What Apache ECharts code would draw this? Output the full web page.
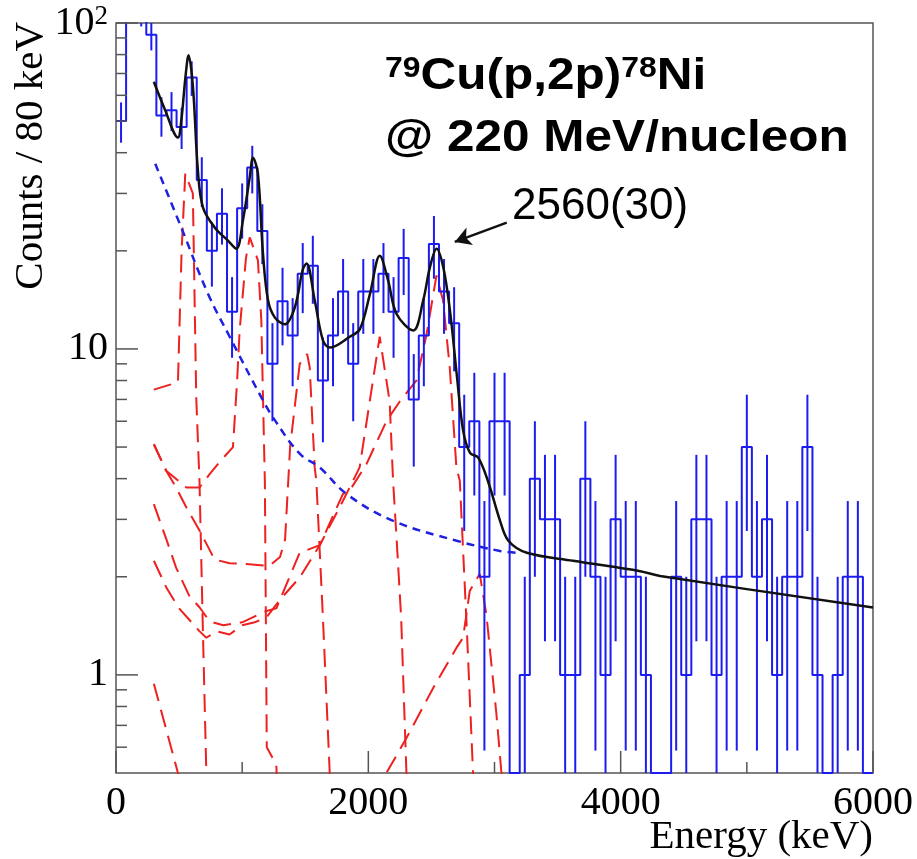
<!DOCTYPE html>
<html>
<head>
<meta charset="utf-8">
<script src="https://cdn.jsdelivr.net/npm/echarts@6/dist/echarts.min.js"></script>
<style>
  html, body { margin: 0; padding: 0; background: #ffffff; }
  #chart { width: 917px; height: 859px; }
</style>
</head>
<body>
<div id="chart"></div>
<script>
// Gamma-ray spectrum, 80 keV bins from 0 to 6000 keV
const binWidth = 80;
const counts = [
  50, 115, 108, 92, 52, 54, 48, 68, 33, 20,
  26, 13, 27, 36, 23, 9, 14, 11, 17, 18,
  8, 11, 15, 9, 15, 15, 17, 13, 19, 7,
  11, 21, 15, 12, 5, 6, 2, 6, 6, 0,
  1, 4, 3, 3, 1, 1, 4, 2, 1, 3,
  2, 2, 1, 0, 0, 2, 1, 3, 3, 1,
  2, 2, 5, 2, 3, 1, 2, 2, 5, 1,
  0, 1, 2, 2, 0
];

// Axis ranges and tick marks
const xRange = [0, 6000];
const yRange = [0.5, 100];
const xMajorTicks = [0, 2000, 4000, 6000];
const xMinorTicks = [1000, 3000, 5000];
const yMajorTicks = [1, 10, 100];
const yMinorTicks = [0.6, 0.7, 0.8, 0.9, 2, 3, 4, 5, 6, 7, 8, 9, 20, 30, 40, 50, 60, 70, 80, 90];

// Total fit [keV, counts]
const fitTotal = [
  [300, 66], [385, 54.6], [491, 44.5], [517, 50], [550, 68], [575, 79.6], [610, 63.6],
  [649, 35.3], [689, 27.2], [782, 23.6], [887, 21.5], [954, 20.3], [1006, 24.8],
  [1060, 33.6], [1086, 38.6], [1125, 34.5], [1165, 19.6], [1205, 14.1], [1258, 12.5],
  [1337, 11.9], [1417, 13.4], [1480, 17.5], [1510, 18.3], [1575, 14.1], [1641, 10.6],
  [1694, 10.1], [1853, 10.9], [1933, 11.5], [2012, 14.7], [2091, 19.3], [2157, 16.2],
  [2224, 12.8], [2356, 11.4], [2435, 14.1], [2488, 17.8], [2541, 20.3], [2594, 17.8],
  [2647, 13.1], [2700, 8.4], [2752, 5.6], [2806, 4.8], [2871, 4.64], [2951, 3.9],
  [3044, 2.97], [3110, 2.58], [3256, 2.37], [3623, 2.24], [4155, 2.08], [4313, 2.01],
  [6000, 1.61]
];

// Smooth background [keV, counts]
const background = [
  [311, 37], [517, 23.6], [728, 14.8], [901, 10.9], [1152, 7.1], [1244, 6.17],
  [1456, 4.77], [1615, 4.33], [1827, 3.59], [2197, 2.97], [2700, 2.58], [3044, 2.4],
  [3176, 2.37]
];

// Simulated response functions of the individual transitions [keV, counts]
const resp575 = [
  [300, 7.5], [491, 7.9], [520, 20], [549, 34.5], [609, 30], [622, 15], [636, 7.1],
  [662, 3.9], [690, 1.3], [716, 0.5], [730, 0.3]
];
const resp1086 = [
  [300, 5.1], [398, 4.23], [557, 3.76], [663, 3.76], [742, 4.13], [821, 4.5], [927, 5.0],
  [960, 8], [980, 11.4], [1030, 19], [1060, 22], [1125, 18.7], [1152, 12.2], [1165, 7.1],
  [1180, 3.9], [1195, 0.6], [1271, 0.53], [1290, 0.3]
];
const resp1510 = [
  [300, 5.1], [398, 4.23], [476, 3.76], [560, 3.25], [663, 2.77], [781, 2.26], [900, 2.2],
  [1031, 2.19], [1216, 2.16], [1300, 2.3], [1340, 2.6], [1380, 5], [1456, 9], [1515, 9.65],
  [1535, 8.8], [1575, 4.33], [1588, 3.94], [1640, 1.5], [1694, 0.5], [1710, 0.3]
];
const resp2090 = [
  [300, 2.24], [400, 1.85], [500, 1.6], [663, 1.36], [716, 1.3], [800, 1.36], [900, 1.33],
  [1000, 1.42], [1100, 1.45], [1192, 1.5], [1300, 1.7], [1456, 1.99], [1615, 2.5],
  [1799, 3.42], [1931, 4.33], [2011, 6.9], [2090, 10.9], [2169, 6.9], [2196, 3.94],
  [2222, 2.7], [2260, 1.5], [2302, 0.5], [2320, 0.3]
];
const resp2560 = [
  [300, 3.34], [400, 2.6], [477, 2.13], [580, 1.75], [663, 1.61], [742, 1.46], [850, 1.42],
  [1000, 1.45], [1192, 1.57], [1271, 1.6], [1456, 2.37], [1615, 2.5], [1799, 3.59],
  [1851, 3.67], [1985, 4.43], [2143, 6], [2249, 6.9], [2381, 8], [2460, 11], [2540, 16.8],
  [2592, 14.1], [2645, 8.8], [2698, 4.33], [2725, 3.94], [2780, 1.4], [2830, 0.5], [2850, 0.3]
];
const resp2880 = [
  [300, 0.94], [491, 0.5], [520, 0.45], [2100, 0.45], [2143, 0.5], [2302, 0.64],
  [2513, 0.91], [2698, 1.21], [2751, 1.3], [2804, 1.81], [2883, 2.04], [2936, 1.53],
  [3015, 0.76], [3055, 0.5], [3080, 0.4]
];

// Arrow pointing at the highest-energy peak [keV, counts]
const arrowFrom = [3097, 24.4];
const arrowTo = [2685, 21.3];

const histBlue = '#1c1cf0';
const fitRed = '#ee2020';
const serif = '"Liberation Serif", "DejaVu Serif", serif';
const sans = '"Liberation Sans", Arial, sans-serif';

const floorValue = v => Math.max(v, yRange[0]);
const stepData = counts.map((c, k) => [k * binWidth, floorValue(c)]);
stepData.push([counts.length * binWidth, floorValue(counts[counts.length - 1])]);
const errorData = counts.map((c, k) => [k * binWidth + binWidth / 2, c]).filter(d => d[1] > 0);

const tickData = []
  .concat(xMajorTicks.map(v => [v, yRange[0], 22, 0]))
  .concat(xMinorTicks.map(v => [v, yRange[0], 11, 0]))
  .concat(yMajorTicks.map(v => [xRange[0], v, 22, 1]))
  .concat(yMinorTicks.map(v => [xRange[0], v, 11, 1]));

function respSeries(data) {
  return {
    type: 'line', data: data, showSymbol: false, silent: true, clip: true, z: 3,
    lineStyle: { color: fitRed, width: 2, type: [18, 9] }
  };
}

const chart = echarts.init(document.getElementById('chart'));
chart.setOption({
  animation: false,
  backgroundColor: '#ffffff',
  grid: {
    left: 116, right: 44, top: 23, bottom: 86,
    show: true, borderColor: '#555', borderWidth: 1.5,
    containLabel: false, outerBoundsMode: 'none'
  },
  xAxis: {
    type: 'value', min: xRange[0], max: xRange[1], interval: 1000,
    axisLine: { show: false }, axisTick: { show: false }, splitLine: { show: false },
    axisLabel: {
      margin: 10, color: '#000', fontFamily: serif, fontSize: 40,
      formatter: v => (v % 2000 === 0 ? String(v) : '')
    }
  },
  yAxis: {
    type: 'log', logBase: 10, min: yRange[0], max: yRange[1],
    axisLine: { show: false }, axisTick: { show: false }, splitLine: { show: false },
    axisLabel: {
      margin: 8, color: '#000', fontFamily: serif, fontSize: 40,
      formatter: v => {
        const r = Math.round(v * 1000) / 1000;
        if (r === 100) return '{b|10}{s|2}';
        if (r === 10) return '10';
        if (r === 1) return '1';
        return '';
      },
      rich: {
        b: { fontFamily: serif, fontSize: 40, color: '#000' },
        s: { fontFamily: serif, fontSize: 27, color: '#000', verticalAlign: 'top' }
      }
    }
  },
  graphic: [
    {
      type: 'text', x: 31, y: 22, rotation: Math.PI / 2,
      style: { text: 'Counts / 80 keV', fontFamily: serif, fontSize: 41, fill: '#000',
        align: 'right', verticalAlign: 'middle' }
    },
    {
      type: 'text', x: 873, y: 817,
      style: { text: 'Energy (keV)', fontFamily: serif, fontSize: 41, fill: '#000',
        align: 'right', verticalAlign: 'top' }
    },
    {
      type: 'text', x: 385, y: 99, scaleX: 1.1,
      style: {
        text: '{s|79}{b|Cu(p,2p)}{s|78}{b|Ni}', verticalAlign: 'bottom',
        rich: {
          b: { fontFamily: sans, fontWeight: 'bold', fontSize: 45, fill: '#000' },
          s: { fontFamily: sans, fontWeight: 'bold', fontSize: 29, fill: '#000', verticalAlign: 'top' }
        }
      }
    },
    {
      type: 'text', x: 385, y: 161, scaleX: 1.1,
      style: { text: '@ 220 MeV/nucleon', fontFamily: sans, fontWeight: 'bold', fontSize: 45,
        fill: '#000', verticalAlign: 'bottom' }
    },
    {
      type: 'text', x: 512, y: 229,
      style: { text: '2560(30)', fontFamily: sans, fontSize: 44, fill: '#000', verticalAlign: 'bottom' }
    }
  ],
  series: [
    {
      type: 'custom', name: 'ticks', silent: true, z: 10, clip: false,
      data: tickData,
      renderItem: (params, api) => {
        const p = api.coord([api.value(0), api.value(1)]);
        const len = api.value(2);
        const shape = api.value(3) === 1
          ? { x1: p[0], y1: p[1], x2: p[0] + len, y2: p[1] }
          : { x1: p[0], y1: p[1], x2: p[0], y2: p[1] - len };
        return { type: 'line', shape: shape, style: { stroke: '#555', lineWidth: 1.5 } };
      }
    },
    respSeries(resp575), respSeries(resp1086), respSeries(resp1510),
    respSeries(resp2090), respSeries(resp2560), respSeries(resp2880),
    {
      type: 'line', data: stepData, step: 'end', showSymbol: false, silent: true, clip: true, z: 4,
      lineStyle: { color: histBlue, width: 2 }
    },
    {
      type: 'custom', name: 'errors', silent: true, z: 4, clip: true,
      data: errorData,
      renderItem: (params, api) => {
        const x = api.value(0), c = api.value(1), e = Math.sqrt(c);
        const lo = Math.max(c - e, yRange[0]);
        const hi = Math.min(c + e, yRange[1]);
        if (hi <= lo) return null;
        const p1 = api.coord([x, lo]), p2 = api.coord([x, hi]);
        return { type: 'line', shape: { x1: p1[0], y1: p1[1], x2: p2[0], y2: p2[1] },
          style: { stroke: histBlue, lineWidth: 2 } };
      }
    },
    {
      type: 'line', data: background, smooth: 0.4, showSymbol: false, silent: true, clip: true, z: 5,
      lineStyle: { color: '#2020e0', width: 2.5, type: [8, 6] }
    },
    {
      type: 'line', data: fitTotal, smooth: 0.35, showSymbol: false, silent: true, clip: true, z: 6,
      lineStyle: { color: '#111', width: 2.5 },
      markLine: {
        silent: true, symbol: ['none', 'arrow'], symbolSize: [14, 16],
        label: { show: false },
        lineStyle: { color: '#111', width: 2.5, type: 'solid' },
        data: [[{ coord: arrowFrom }, { coord: arrowTo }]]
      }
    }
  ]
});
</script>
</body>
</html>
